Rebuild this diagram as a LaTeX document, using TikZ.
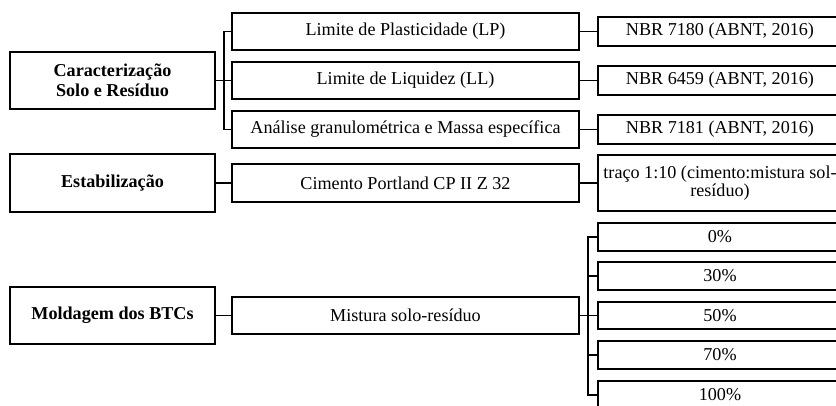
\documentclass[tikz,border=0pt]{standalone}
\usepackage{fontspec}
\setmainfont{Liberation Serif}
\begin{document}
\begin{tikzpicture}[x=0.75pt,y=-0.75pt,
  box/.style={draw,line width=1.4pt,rectangle,inner sep=0pt,align=center,
    font=\fontsize{13.6}{13.5}\selectfont},
  lbox/.style={box,minimum width=205*0.75pt,font=\fontsize{13.6}{15}\selectfont\bfseries},
  mbox/.style={box,minimum width=347*0.75pt,minimum height=37*0.75pt},
  rbox/.style={box,minimum width=244*0.75pt,minimum height=28*0.75pt},
  conn/.style={line width=1.3pt}]
\useasboundingbox (0,0) rectangle (836,406);
\clip (0,0) rectangle (836,406);
% left column
\node[lbox,minimum height=57*0.75pt] (c1) at (112.5,80.5) {Caracterização\\Solo e Resíduo};
\node[lbox,minimum height=58*0.75pt] (e1) at (112.5,183) {Estabilização};
\node[lbox,minimum height=57*0.75pt] (m1) at (112.5,315.5) {Moldagem dos BTCs};
% middle column
\node[mbox] (lp) at (405.5,31.5) {Limite de Plasticidade (LP)};
\node[mbox] (ll) at (405.5,80.5) {Limite de Liquidez (LL)};
\node[mbox] (an) at (405.5,129.5) {Análise granulométrica e Massa específica};
\node[mbox,minimum height=38*0.75pt] (ci) at (405.5,183) {Cimento Portland CP II Z 32};
\node[mbox] (mi) at (405.5,315.5) {Mistura solo-resíduo};
% right column
\node[rbox,minimum height=29*0.75pt] (n1) at (720,31.5) {NBR 7180 (ABNT, 2016)};
\node[rbox,minimum height=29*0.75pt] (n2) at (720,80.5) {NBR 6459 (ABNT, 2016)};
\node[rbox,minimum height=29*0.75pt] (n3) at (720,129.5) {NBR 7181 (ABNT, 2016)};
\node[rbox,minimum height=56*0.75pt] (tr) at (720,183) {traço 1:10 (cimento:mistura sol-\\resíduo)};
\node[rbox] (p0) at (720,237) {0\%};
\node[rbox] (p30) at (720,276) {30\%};
\node[rbox,minimum height=27*0.75pt] (p50) at (720,315.5) {50\%};
\node[rbox] (p70) at (720,355) {70\%};
\node[rbox] (p100) at (720,395) {100\%};
% brackets
\coordinate (b1) at (224,80.5);
\coordinate (b2) at (588,315.5);
\draw[conn] (c1.east) -- (b1);
\draw[conn] (lp.west) -| (b1) |- (an.west);
\draw[conn] (ll.west) -- (b1);
\draw[conn] (lp.east) -- (n1.west);
\draw[conn] (ll.east) -- (n2.west);
\draw[conn] (an.east) -- (n3.west);
\draw[conn] (e1.east) -- (ci.west);
\draw[conn] (ci.east) -- (tr.west);
\draw[conn] (m1.east) -- (mi.west);
\draw[conn] (mi.east) -- (b2);
\draw[conn] (p0.west) -| (b2) |- (p100.west);
\draw[conn] (p30.west) -- (p30.west -| b2);
\draw[conn] (p50.west) -- (b2);
\draw[conn] (p70.west) -- (p70.west -| b2);
\end{tikzpicture}
\end{document}
